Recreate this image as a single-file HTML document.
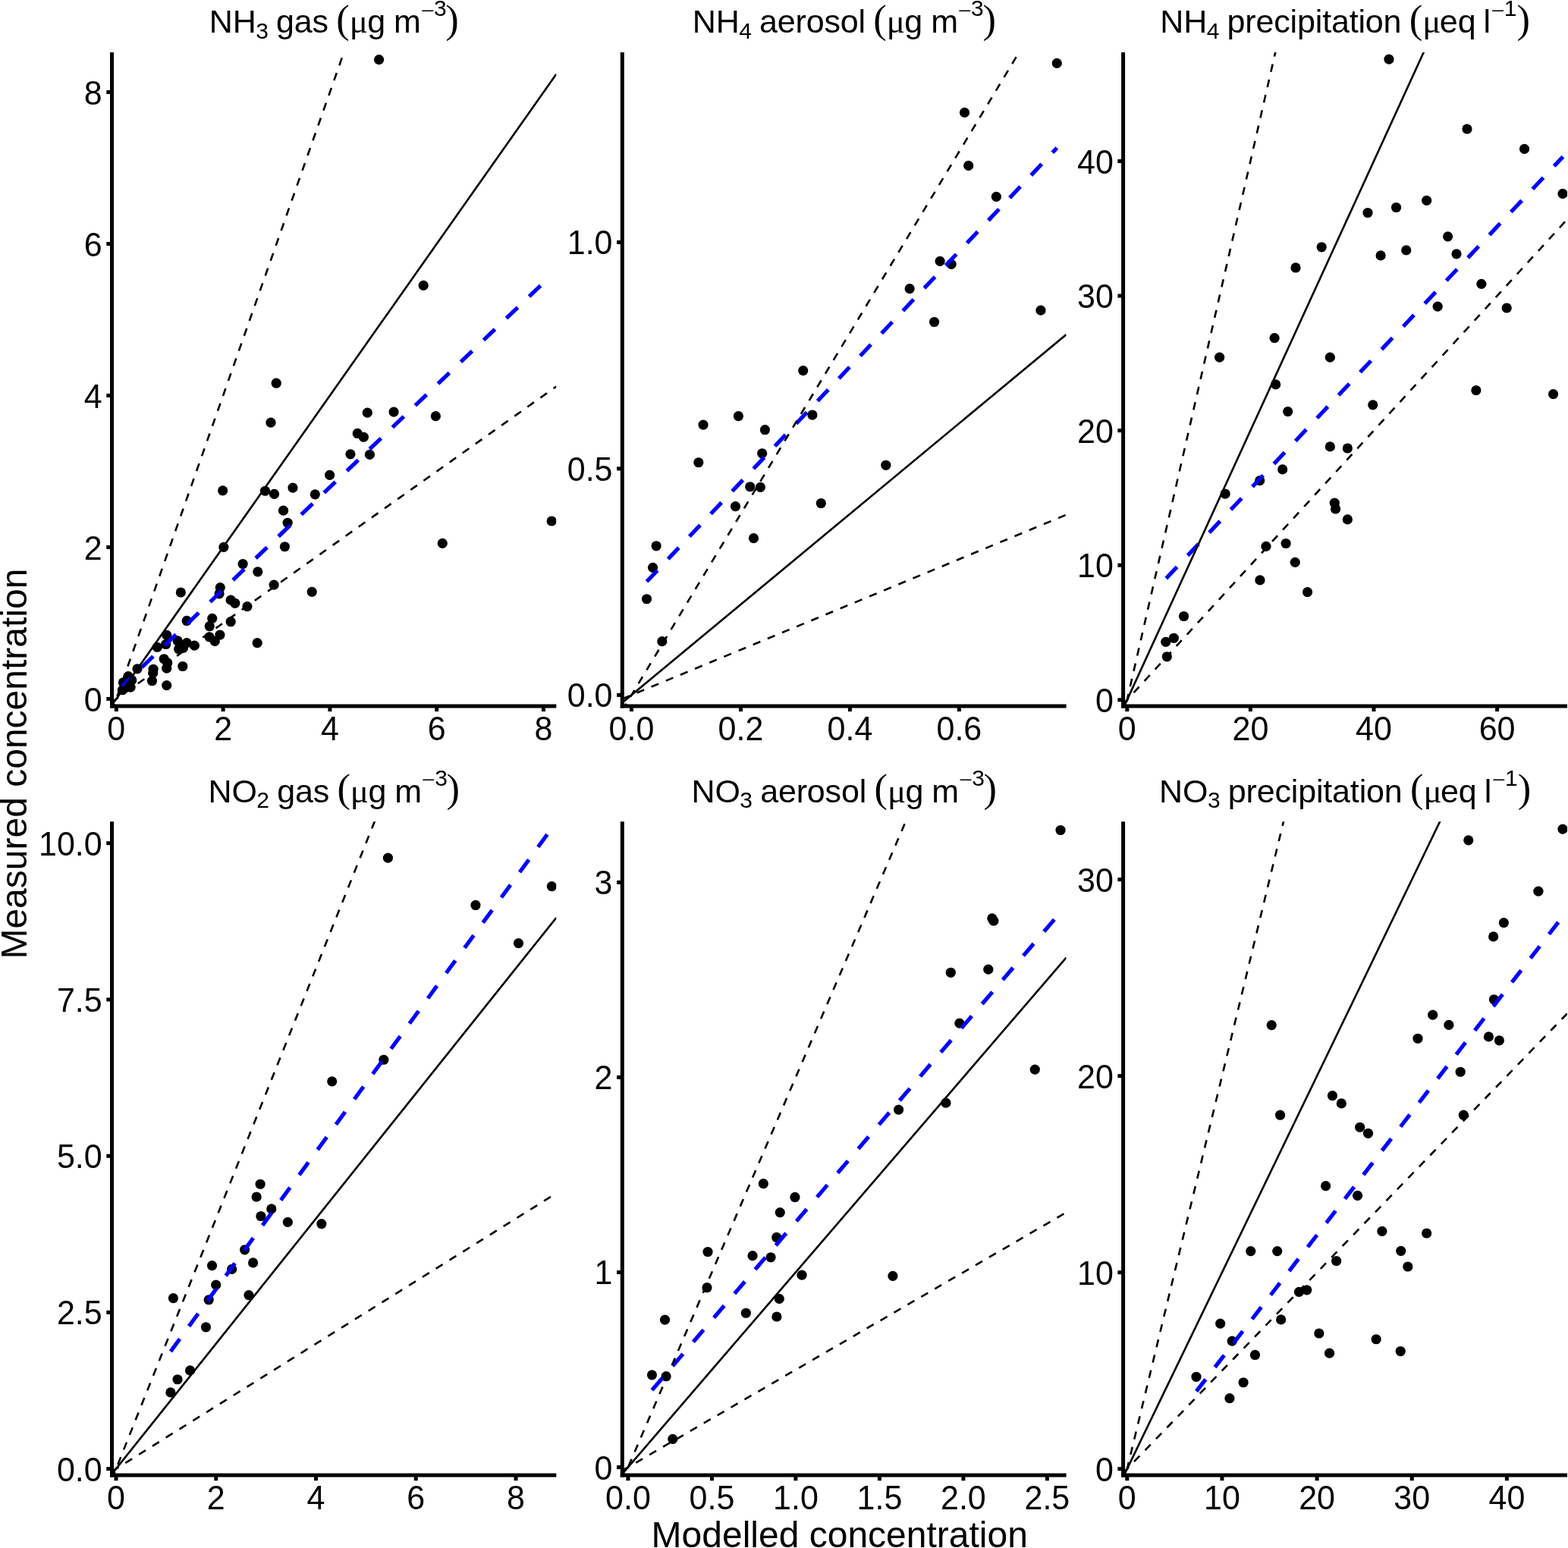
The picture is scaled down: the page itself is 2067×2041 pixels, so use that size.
<!DOCTYPE html>
<html lang="en"><head><meta charset="utf-8"><title>Measured vs modelled concentration</title>
<style>html,body{margin:0;padding:0;background:#fff}svg{display:block}text{font-family:"Liberation Sans",Arial,sans-serif;fill:#000}.sy{font-family:"Liberation Serif","Times New Roman",serif}</style></head><body>
<svg width="2067" height="2041" viewBox="0 0 2067 2041">
<rect width="2067" height="2041" fill="#fff"/>
<defs>
<clipPath id="c0"><rect x="147.5" y="68.9" width="585.8" height="862"/></clipPath>
<clipPath id="c1"><rect x="820.3" y="68.9" width="585.3" height="862"/></clipPath>
<clipPath id="c2"><rect x="1480.6" y="68.9" width="585.4" height="862"/></clipPath>
<clipPath id="c3"><rect x="147.5" y="1083.3" width="585.8" height="861.7"/></clipPath>
<clipPath id="c4"><rect x="820.3" y="1083.3" width="585.3" height="861.7"/></clipPath>
<clipPath id="c5"><rect x="1480.6" y="1083.3" width="585.4" height="861.7"/></clipPath>
</defs>
<g id="panel1">
<g clip-path="url(#c0)">
<g fill="#000">
<circle cx="293.62" cy="646.83" r="6.6"/>
<circle cx="349.52" cy="647.25" r="6.6"/>
<circle cx="361.53" cy="651.39" r="6.6"/>
<circle cx="385.96" cy="643.11" r="6.6"/>
<circle cx="415.36" cy="651.8" r="6.6"/>
<circle cx="373.54" cy="673.13" r="6.6"/>
<circle cx="379.13" cy="689.28" r="6.6"/>
<circle cx="375.4" cy="720.75" r="6.6"/>
<circle cx="294.87" cy="721.37" r="6.6"/>
<circle cx="320.12" cy="743.52" r="6.6"/>
<circle cx="339.79" cy="753.87" r="6.6"/>
<circle cx="361.12" cy="771.06" r="6.6"/>
<circle cx="411.22" cy="780.37" r="6.6"/>
<circle cx="238.34" cy="780.99" r="6.6"/>
<circle cx="290.31" cy="774.58" r="6.6"/>
<circle cx="289.07" cy="782.86" r="6.6"/>
<circle cx="304.18" cy="791.14" r="6.6"/>
<circle cx="309.77" cy="795.28" r="6.6"/>
<circle cx="325.92" cy="799.63" r="6.6"/>
<circle cx="279.75" cy="815.36" r="6.6"/>
<circle cx="246.21" cy="818.47" r="6.6"/>
<circle cx="304.18" cy="819.71" r="6.6"/>
<circle cx="276.23" cy="825.71" r="6.6"/>
<circle cx="289.9" cy="837.1" r="6.6"/>
<circle cx="276.02" cy="839.79" r="6.6"/>
<circle cx="283.27" cy="845.38" r="6.6"/>
<circle cx="339.17" cy="847.66" r="6.6"/>
<circle cx="219.71" cy="837.31" r="6.6"/>
<circle cx="234.2" cy="844.97" r="6.6"/>
<circle cx="246.21" cy="847.66" r="6.6"/>
<circle cx="256.36" cy="851.18" r="6.6"/>
<circle cx="207.29" cy="853.25" r="6.6"/>
<circle cx="218.67" cy="849.52" r="6.6"/>
<circle cx="235.65" cy="855.73" r="6.6"/>
<circle cx="241.45" cy="854.29" r="6.6"/>
<circle cx="216.19" cy="868.78" r="6.6"/>
<circle cx="220.75" cy="873.95" r="6.6"/>
<circle cx="219.71" cy="881.2" r="6.6"/>
<circle cx="240.83" cy="878.51" r="6.6"/>
<circle cx="180.99" cy="881.82" r="6.6"/>
<circle cx="202.11" cy="882.24" r="6.6"/>
<circle cx="201.7" cy="887.41" r="6.6"/>
<circle cx="200.46" cy="897.76" r="6.6"/>
<circle cx="219.71" cy="903.56" r="6.6"/>
<circle cx="168.99" cy="891.55" r="6.6"/>
<circle cx="173.75" cy="896.73" r="6.6"/>
<circle cx="162.36" cy="899.83" r="6.6"/>
<circle cx="172.09" cy="906.05" r="6.6"/>
<circle cx="161.33" cy="909.77" r="6.6"/>
<circle cx="364.22" cy="505.22" r="6.6"/>
<circle cx="356.98" cy="557.18" r="6.6"/>
<circle cx="484.31" cy="544.14" r="6.6"/>
<circle cx="519.09" cy="543.11" r="6.6"/>
<circle cx="574.37" cy="548.7" r="6.6"/>
<circle cx="471.26" cy="571.47" r="6.6"/>
<circle cx="479.34" cy="576.23" r="6.6"/>
<circle cx="461.95" cy="598.8" r="6.6"/>
<circle cx="487.41" cy="599.42" r="6.6"/>
<circle cx="434.62" cy="626.34" r="6.6"/>
<circle cx="583.27" cy="716.4" r="6.6"/>
<circle cx="727.16" cy="687" r="6.6"/>
<circle cx="499.6" cy="78.6" r="6.6"/>
<circle cx="558.2" cy="376.4" r="6.6"/>
</g>
<line x1="161" y1="904.6" x2="714.5" y2="374.7" stroke="#0000ff" stroke-width="5.2" stroke-dasharray="20.79 20.79" stroke-dashoffset="5.68"/>
<line x1="147.5" y1="929.74" x2="733.3" y2="97.64" stroke="#000" stroke-width="2.62"/>
<line x1="147.5" y1="937.98" x2="733.3" y2="-726.23" stroke="#000" stroke-width="2.62" stroke-dasharray="10.5 10.5"/>
<line x1="147.5" y1="925.62" x2="733.3" y2="509.57" stroke="#000" stroke-width="2.62" stroke-dasharray="10.5 10.5"/>
</g>
<g stroke="#000" stroke-width="5.0" fill="none" stroke-linecap="butt">
<line x1="147.5" y1="68.9" x2="147.5" y2="933.4"/>
<line x1="145" y1="930.9" x2="733.3" y2="930.9"/>
<line x1="153.3" y1="930.9" x2="153.3" y2="938.1"/>
<line x1="294.1" y1="930.9" x2="294.1" y2="938.1"/>
<line x1="434.9" y1="930.9" x2="434.9" y2="938.1"/>
<line x1="575.7" y1="930.9" x2="575.7" y2="938.1"/>
<line x1="716.5" y1="930.9" x2="716.5" y2="938.1"/>
<line x1="140.3" y1="921.5" x2="147.5" y2="921.5"/>
<line x1="140.3" y1="721.5" x2="147.5" y2="721.5"/>
<line x1="140.3" y1="521.5" x2="147.5" y2="521.5"/>
<line x1="140.3" y1="321.5" x2="147.5" y2="321.5"/>
<line x1="140.3" y1="121.5" x2="147.5" y2="121.5"/>
</g>
<g font-size="43">
<text transform="translate(153.3 975.6) scale(1 1.03)" text-anchor="middle">0</text>
<text transform="translate(294.1 975.6) scale(1 1.03)" text-anchor="middle">2</text>
<text transform="translate(434.9 975.6) scale(1 1.03)" text-anchor="middle">4</text>
<text transform="translate(575.7 975.6) scale(1 1.03)" text-anchor="middle">6</text>
<text transform="translate(716.5 975.6) scale(1 1.03)" text-anchor="middle">8</text>
<text transform="translate(134.7 937.5) scale(1 1.03)" text-anchor="end">0</text>
<text transform="translate(134.7 737.5) scale(1 1.03)" text-anchor="end">2</text>
<text transform="translate(134.7 537.5) scale(1 1.03)" text-anchor="end">4</text>
<text transform="translate(134.7 337.5) scale(1 1.03)" text-anchor="end">6</text>
<text transform="translate(134.7 137.5) scale(1 1.03)" text-anchor="end">8</text>
</g>
<text class="title" font-size="43"><tspan x="275.63" y="43.1" font-size="43">NH</tspan><tspan x="337.14" y="51" font-size="30">3 </tspan><tspan x="363.97" y="43.1" font-size="43" letter-spacing="-0.16">gas </tspan><tspan x="443.19" y="42.5" font-size="52.5" class="sy">(</tspan><tspan x="460.64" y="43.1" font-size="45" class="sy">μ</tspan><tspan x="484.19" y="43.1" font-size="43">g </tspan><tspan x="519.06" y="43.1" font-size="43">m</tspan><tspan x="554.42" y="24.6" font-size="32" class="sy">−</tspan><tspan x="571.94" y="21.1" font-size="30">3</tspan><tspan x="587.33" y="42.5" font-size="52.5" class="sy">)</tspan></text>
</g>
<g id="panel2">
<g clip-path="url(#c1)">
<g fill="#000">
<circle cx="1393.29" cy="83.4" r="6.6"/>
<circle cx="1271.55" cy="148.41" r="6.6"/>
<circle cx="1276.73" cy="218.39" r="6.6"/>
<circle cx="1313.37" cy="259.38" r="6.6"/>
<circle cx="1239.13" cy="344.31" r="6.6"/>
<circle cx="1254.2" cy="348.34" r="6.6"/>
<circle cx="1199.16" cy="380.64" r="6.6"/>
<circle cx="1231.59" cy="424.51" r="6.6"/>
<circle cx="1371.96" cy="409.17" r="6.6"/>
<circle cx="1058.72" cy="488.65" r="6.6"/>
<circle cx="973.42" cy="548.7" r="6.6"/>
<circle cx="927.04" cy="560.08" r="6.6"/>
<circle cx="1008.41" cy="566.71" r="6.6"/>
<circle cx="1070.93" cy="547.04" r="6.6"/>
<circle cx="1004.68" cy="597.76" r="6.6"/>
<circle cx="920.83" cy="609.77" r="6.6"/>
<circle cx="1167.83" cy="613.29" r="6.6"/>
<circle cx="988.74" cy="641.74" r="6.6"/>
<circle cx="1002.4" cy="642.36" r="6.6"/>
<circle cx="1082.32" cy="663.48" r="6.6"/>
<circle cx="969.48" cy="667.62" r="6.6"/>
<circle cx="993.5" cy="709.65" r="6.6"/>
<circle cx="865.13" cy="719.79" r="6.6"/>
<circle cx="860.58" cy="748.36" r="6.6"/>
<circle cx="852.51" cy="789.77" r="6.6"/>
<circle cx="872.8" cy="845.67" r="6.6"/>
</g>
<line x1="852.6" y1="766.8" x2="1393.3" y2="195" stroke="#0000ff" stroke-width="5.2" stroke-dasharray="20.48 20.48" stroke-dashoffset="0"/>
<line x1="820.3" y1="926.52" x2="1405.6" y2="441.07" stroke="#000" stroke-width="2.62"/>
<line x1="820.3" y1="936.64" x2="1405.6" y2="-34.25" stroke="#000" stroke-width="2.62" stroke-dasharray="10.37 10.37"/>
<line x1="820.3" y1="921.46" x2="1405.6" y2="678.74" stroke="#000" stroke-width="2.62" stroke-dasharray="10.37 10.37"/>
</g>
<g stroke="#000" stroke-width="5.0" fill="none" stroke-linecap="butt">
<line x1="820.3" y1="68.9" x2="820.3" y2="933.4"/>
<line x1="817.8" y1="930.9" x2="1405.6" y2="930.9"/>
<line x1="832.5" y1="930.9" x2="832.5" y2="938.1"/>
<line x1="976.46" y1="930.9" x2="976.46" y2="938.1"/>
<line x1="1120.42" y1="930.9" x2="1120.42" y2="938.1"/>
<line x1="1264.38" y1="930.9" x2="1264.38" y2="938.1"/>
<line x1="813.1" y1="916.4" x2="820.3" y2="916.4"/>
<line x1="813.1" y1="617.9" x2="820.3" y2="617.9"/>
<line x1="813.1" y1="319.4" x2="820.3" y2="319.4"/>
</g>
<g font-size="43">
<text transform="translate(832.5 975.6) scale(1 1.03)" text-anchor="middle">0.0</text>
<text transform="translate(976.46 975.6) scale(1 1.03)" text-anchor="middle">0.2</text>
<text transform="translate(1120.42 975.6) scale(1 1.03)" text-anchor="middle">0.4</text>
<text transform="translate(1264.38 975.6) scale(1 1.03)" text-anchor="middle">0.6</text>
<text transform="translate(807.5 932.4) scale(1 1.03)" text-anchor="end">0.0</text>
<text transform="translate(807.5 633.9) scale(1 1.03)" text-anchor="end">0.5</text>
<text transform="translate(807.5 335.4) scale(1 1.03)" text-anchor="end">1.0</text>
</g>
<text class="title" font-size="43"><tspan x="912.65" y="43.1" font-size="43">NH</tspan><tspan x="974.16" y="51" font-size="30">4 </tspan><tspan x="1000.99" y="43.1" font-size="43" letter-spacing="-0.16">aerosol </tspan><tspan x="1151.28" y="42.5" font-size="52.5" class="sy">(</tspan><tspan x="1168.73" y="43.1" font-size="45" class="sy">μ</tspan><tspan x="1192.28" y="43.1" font-size="43">g </tspan><tspan x="1227.14" y="43.1" font-size="43">m</tspan><tspan x="1262.51" y="24.6" font-size="32" class="sy">−</tspan><tspan x="1280.03" y="21.1" font-size="30">3</tspan><tspan x="1295.41" y="42.5" font-size="52.5" class="sy">)</tspan></text>
</g>
<g id="panel3">
<g clip-path="url(#c2)">
<g fill="#000">
<circle cx="1830.98" cy="78.12" r="6.6"/>
<circle cx="1933.98" cy="169.99" r="6.6"/>
<circle cx="2009.55" cy="196.39" r="6.6"/>
<circle cx="2060.01" cy="255.39" r="6.6"/>
<circle cx="1880.66" cy="264.45" r="6.6"/>
<circle cx="1840.55" cy="273.51" r="6.6"/>
<circle cx="1803.02" cy="280.5" r="6.6"/>
<circle cx="1908.61" cy="311.81" r="6.6"/>
<circle cx="1742.21" cy="325.79" r="6.6"/>
<circle cx="1853.75" cy="329.93" r="6.6"/>
<circle cx="1820.11" cy="336.92" r="6.6"/>
<circle cx="1920" cy="334.84" r="6.6"/>
<circle cx="1708.05" cy="352.96" r="6.6"/>
<circle cx="1952.87" cy="374.44" r="6.6"/>
<circle cx="1895.16" cy="404.2" r="6.6"/>
<circle cx="1986.25" cy="406.01" r="6.6"/>
<circle cx="1680.1" cy="445.55" r="6.6"/>
<circle cx="1607.63" cy="471.17" r="6.6"/>
<circle cx="1753.34" cy="471.17" r="6.6"/>
<circle cx="1681.65" cy="506.88" r="6.6"/>
<circle cx="1945.88" cy="514.65" r="6.6"/>
<circle cx="2047.59" cy="519.57" r="6.6"/>
<circle cx="1809.75" cy="533.8" r="6.6"/>
<circle cx="1697.69" cy="542.6" r="6.6"/>
<circle cx="1753.34" cy="588.92" r="6.6"/>
<circle cx="1776.37" cy="590.99" r="6.6"/>
<circle cx="1690.71" cy="618.94" r="6.6"/>
<circle cx="1660.69" cy="633.7" r="6.6"/>
<circle cx="1615.14" cy="651.04" r="6.6"/>
<circle cx="1759.29" cy="663.2" r="6.6"/>
<circle cx="1760.58" cy="670.96" r="6.6"/>
<circle cx="1776.37" cy="684.94" r="6.6"/>
<circle cx="1668.97" cy="720.39" r="6.6"/>
<circle cx="1695.11" cy="716.51" r="6.6"/>
<circle cx="1707.27" cy="741.36" r="6.6"/>
<circle cx="1660.94" cy="764.91" r="6.6"/>
<circle cx="1560.53" cy="812.52" r="6.6"/>
<circle cx="1547.33" cy="841.24" r="6.6"/>
<circle cx="1536.77" cy="846.37" r="6.6"/>
<circle cx="1538.32" cy="865.78" r="6.6"/>
<circle cx="1723.57" cy="780.68" r="6.6"/>
</g>
<line x1="1537.3" y1="762.6" x2="2060.4" y2="206.6" stroke="#0000ff" stroke-width="5.2" stroke-dasharray="20.73 20.73" stroke-dashoffset="0"/>
<line x1="1480.6" y1="934.16" x2="2066" y2="-344.47" stroke="#000" stroke-width="2.62"/>
<line x1="1480.6" y1="945.52" x2="2066" y2="-1611.74" stroke="#000" stroke-width="2.62" stroke-dasharray="10.39 10.39"/>
<line x1="1480.6" y1="928.48" x2="2066" y2="289.17" stroke="#000" stroke-width="2.62" stroke-dasharray="10.39 10.39"/>
</g>
<g stroke="#000" stroke-width="5.0" fill="none" stroke-linecap="butt">
<line x1="1480.6" y1="68.9" x2="1480.6" y2="933.4"/>
<line x1="1478.1" y1="930.9" x2="2066" y2="930.9"/>
<line x1="1485.8" y1="930.9" x2="1485.8" y2="938.1"/>
<line x1="1648.4" y1="930.9" x2="1648.4" y2="938.1"/>
<line x1="1811" y1="930.9" x2="1811" y2="938.1"/>
<line x1="1973.6" y1="930.9" x2="1973.6" y2="938.1"/>
<line x1="1473.4" y1="922.8" x2="1480.6" y2="922.8"/>
<line x1="1473.4" y1="745.22" x2="1480.6" y2="745.22"/>
<line x1="1473.4" y1="567.65" x2="1480.6" y2="567.65"/>
<line x1="1473.4" y1="390.07" x2="1480.6" y2="390.07"/>
<line x1="1473.4" y1="212.5" x2="1480.6" y2="212.5"/>
</g>
<g font-size="43">
<text transform="translate(1485.8 975.6) scale(1 1.03)" text-anchor="middle">0</text>
<text transform="translate(1648.4 975.6) scale(1 1.03)" text-anchor="middle">20</text>
<text transform="translate(1811 975.6) scale(1 1.03)" text-anchor="middle">40</text>
<text transform="translate(1973.6 975.6) scale(1 1.03)" text-anchor="middle">60</text>
<text transform="translate(1467.8 938.8) scale(1 1.03)" text-anchor="end">0</text>
<text transform="translate(1467.8 761.22) scale(1 1.03)" text-anchor="end">10</text>
<text transform="translate(1467.8 583.65) scale(1 1.03)" text-anchor="end">20</text>
<text transform="translate(1467.8 406.07) scale(1 1.03)" text-anchor="end">30</text>
<text transform="translate(1467.8 228.5) scale(1 1.03)" text-anchor="end">40</text>
</g>
<text class="title" font-size="43"><tspan x="1529.24" y="43.1" font-size="43">NH</tspan><tspan x="1590.75" y="51" font-size="30">4 </tspan><tspan x="1617.58" y="43.1" font-size="43" letter-spacing="-0.16">precipitation </tspan><tspan x="1857.74" y="42.5" font-size="52.5" class="sy">(</tspan><tspan x="1875.19" y="43.1" font-size="45" class="sy">μ</tspan><tspan x="1897.74" y="43.1" font-size="43">eq </tspan><tspan x="1955.51" y="43.1" font-size="43">l</tspan><tspan x="1965.31" y="24.6" font-size="32" class="sy">−</tspan><tspan x="1982.83" y="21.1" font-size="30">1</tspan><tspan x="1999.52" y="42.5" font-size="52.5" class="sy">)</tspan></text>
</g>
<g id="panel4">
<g clip-path="url(#c3)">
<g fill="#000">
<circle cx="511.43" cy="1131.14" r="6.6"/>
<circle cx="626.96" cy="1193.46" r="6.6"/>
<circle cx="727.37" cy="1168.61" r="6.6"/>
<circle cx="683.48" cy="1243.56" r="6.6"/>
<circle cx="505.84" cy="1397.27" r="6.6"/>
<circle cx="437.72" cy="1425.84" r="6.6"/>
<circle cx="343.11" cy="1561.24" r="6.6"/>
<circle cx="338.14" cy="1578.01" r="6.6"/>
<circle cx="357.81" cy="1593.95" r="6.6"/>
<circle cx="343.93" cy="1603.48" r="6.6"/>
<circle cx="379.34" cy="1611.35" r="6.6"/>
<circle cx="423.85" cy="1613.62" r="6.6"/>
<circle cx="322.61" cy="1647.78" r="6.6"/>
<circle cx="333.58" cy="1664.91" r="6.6"/>
<circle cx="279.54" cy="1668.63" r="6.6"/>
<circle cx="305.63" cy="1673.4" r="6.6"/>
<circle cx="284.72" cy="1694.1" r="6.6"/>
<circle cx="228.41" cy="1711.7" r="6.6"/>
<circle cx="275.2" cy="1713.77" r="6.6"/>
<circle cx="327.99" cy="1707.56" r="6.6"/>
<circle cx="271.47" cy="1749.79" r="6.6"/>
<circle cx="250.56" cy="1806.94" r="6.6"/>
<circle cx="234" cy="1818.74" r="6.6"/>
<circle cx="224.89" cy="1835.92" r="6.6"/>
</g>
<line x1="224.9" y1="1781.9" x2="727.4" y2="1091.9" stroke="#0000ff" stroke-width="5.2" stroke-dasharray="20.57 20.57" stroke-dashoffset="0"/>
<line x1="147.5" y1="1943.49" x2="733.3" y2="1209.99" stroke="#000" stroke-width="2.62"/>
<line x1="147.5" y1="1950.37" x2="733.3" y2="483.38" stroke="#000" stroke-width="2.62" stroke-dasharray="10.5 10.5"/>
<line x1="147.5" y1="1940.04" x2="733.3" y2="1573.3" stroke="#000" stroke-width="2.62" stroke-dasharray="10.5 10.5"/>
</g>
<g stroke="#000" stroke-width="5.0" fill="none" stroke-linecap="butt">
<line x1="147.5" y1="1083.3" x2="147.5" y2="1947.5"/>
<line x1="145" y1="1945" x2="733.3" y2="1945"/>
<line x1="153" y1="1945" x2="153" y2="1952.2"/>
<line x1="284.76" y1="1945" x2="284.76" y2="1952.2"/>
<line x1="416.52" y1="1945" x2="416.52" y2="1952.2"/>
<line x1="548.28" y1="1945" x2="548.28" y2="1952.2"/>
<line x1="680.04" y1="1945" x2="680.04" y2="1952.2"/>
<line x1="140.3" y1="1936.6" x2="147.5" y2="1936.6"/>
<line x1="140.3" y1="1730.38" x2="147.5" y2="1730.38"/>
<line x1="140.3" y1="1524.15" x2="147.5" y2="1524.15"/>
<line x1="140.3" y1="1317.92" x2="147.5" y2="1317.92"/>
<line x1="140.3" y1="1111.7" x2="147.5" y2="1111.7"/>
</g>
<g font-size="43">
<text transform="translate(153 1989.7) scale(1 1.03)" text-anchor="middle">0</text>
<text transform="translate(284.76 1989.7) scale(1 1.03)" text-anchor="middle">2</text>
<text transform="translate(416.52 1989.7) scale(1 1.03)" text-anchor="middle">4</text>
<text transform="translate(548.28 1989.7) scale(1 1.03)" text-anchor="middle">6</text>
<text transform="translate(680.04 1989.7) scale(1 1.03)" text-anchor="middle">8</text>
<text transform="translate(134.7 1952.6) scale(1 1.03)" text-anchor="end">0.0</text>
<text transform="translate(134.7 1746.38) scale(1 1.03)" text-anchor="end">2.5</text>
<text transform="translate(134.7 1540.15) scale(1 1.03)" text-anchor="end">5.0</text>
<text transform="translate(134.7 1333.92) scale(1 1.03)" text-anchor="end">7.5</text>
<text transform="translate(134.7 1127.7) scale(1 1.03)" text-anchor="end">10.0</text>
</g>
<text class="title" font-size="43"><tspan x="274.43" y="1057.5" font-size="43">NO</tspan><tspan x="338.33" y="1065.4" font-size="30">2 </tspan><tspan x="365.17" y="1057.5" font-size="43" letter-spacing="-0.16">gas </tspan><tspan x="444.39" y="1056.9" font-size="52.5" class="sy">(</tspan><tspan x="461.84" y="1057.5" font-size="45" class="sy">μ</tspan><tspan x="485.39" y="1057.5" font-size="43">g </tspan><tspan x="520.25" y="1057.5" font-size="43">m</tspan><tspan x="555.62" y="1039" font-size="32" class="sy">−</tspan><tspan x="573.14" y="1035.5" font-size="30">3</tspan><tspan x="588.53" y="1056.9" font-size="52.5" class="sy">)</tspan></text>
</g>
<g id="panel5">
<g clip-path="url(#c4)">
<g fill="#000">
<circle cx="1398.05" cy="1094.49" r="6.6"/>
<circle cx="1307.78" cy="1210.85" r="6.6"/>
<circle cx="1309.86" cy="1214.16" r="6.6"/>
<circle cx="1253.33" cy="1282.28" r="6.6"/>
<circle cx="1302.82" cy="1278.14" r="6.6"/>
<circle cx="1264.93" cy="1349.15" r="6.6"/>
<circle cx="1364.31" cy="1410.1" r="6.6"/>
<circle cx="1246.92" cy="1454.2" r="6.6"/>
<circle cx="1184.6" cy="1463.11" r="6.6"/>
<circle cx="1006.34" cy="1560.66" r="6.6"/>
<circle cx="1047.95" cy="1578.47" r="6.6"/>
<circle cx="1028.28" cy="1598.55" r="6.6"/>
<circle cx="1023.73" cy="1631.47" r="6.6"/>
<circle cx="933.04" cy="1650.52" r="6.6"/>
<circle cx="992.05" cy="1655.69" r="6.6"/>
<circle cx="1016.07" cy="1657.76" r="6.6"/>
<circle cx="1057.06" cy="1681.16" r="6.6"/>
<circle cx="1176.94" cy="1682.4" r="6.6"/>
<circle cx="932.01" cy="1697.72" r="6.6"/>
<circle cx="1027.25" cy="1712.42" r="6.6"/>
<circle cx="983.35" cy="1731.26" r="6.6"/>
<circle cx="1023.93" cy="1736.02" r="6.6"/>
<circle cx="876.52" cy="1740.17" r="6.6"/>
<circle cx="859.47" cy="1812.86" r="6.6"/>
<circle cx="878.11" cy="1814.72" r="6.6"/>
<circle cx="886.8" cy="1897.33" r="6.6"/>
</g>
<line x1="859.5" y1="1832.9" x2="1398" y2="1202.8" stroke="#0000ff" stroke-width="5.2" stroke-dasharray="20.93 20.93" stroke-dashoffset="0"/>
<line x1="820.3" y1="1943.4" x2="1405.6" y2="1262.56" stroke="#000" stroke-width="2.62"/>
<line x1="820.3" y1="1952.3" x2="1405.6" y2="590.62" stroke="#000" stroke-width="2.62" stroke-dasharray="10.36 10.36"/>
<line x1="820.3" y1="1938.95" x2="1405.6" y2="1598.53" stroke="#000" stroke-width="2.62" stroke-dasharray="10.36 10.36"/>
</g>
<g stroke="#000" stroke-width="5.0" fill="none" stroke-linecap="butt">
<line x1="820.3" y1="1083.3" x2="820.3" y2="1947.5"/>
<line x1="817.8" y1="1945" x2="1405.6" y2="1945"/>
<line x1="827.95" y1="1945" x2="827.95" y2="1952.2"/>
<line x1="938.44" y1="1945" x2="938.44" y2="1952.2"/>
<line x1="1048.93" y1="1945" x2="1048.93" y2="1952.2"/>
<line x1="1159.42" y1="1945" x2="1159.42" y2="1952.2"/>
<line x1="1269.91" y1="1945" x2="1269.91" y2="1952.2"/>
<line x1="1380.4" y1="1945" x2="1380.4" y2="1952.2"/>
<line x1="813.1" y1="1934.5" x2="820.3" y2="1934.5"/>
<line x1="813.1" y1="1677.45" x2="820.3" y2="1677.45"/>
<line x1="813.1" y1="1420.4" x2="820.3" y2="1420.4"/>
<line x1="813.1" y1="1163.35" x2="820.3" y2="1163.35"/>
</g>
<g font-size="43">
<text transform="translate(827.95 1989.7) scale(1 1.03)" text-anchor="middle">0.0</text>
<text transform="translate(938.44 1989.7) scale(1 1.03)" text-anchor="middle">0.5</text>
<text transform="translate(1048.93 1989.7) scale(1 1.03)" text-anchor="middle">1.0</text>
<text transform="translate(1159.42 1989.7) scale(1 1.03)" text-anchor="middle">1.5</text>
<text transform="translate(1269.91 1989.7) scale(1 1.03)" text-anchor="middle">2.0</text>
<text transform="translate(1380.4 1989.7) scale(1 1.03)" text-anchor="middle">2.5</text>
<text transform="translate(807.5 1950.5) scale(1 1.03)" text-anchor="end">0</text>
<text transform="translate(807.5 1693.45) scale(1 1.03)" text-anchor="end">1</text>
<text transform="translate(807.5 1436.4) scale(1 1.03)" text-anchor="end">2</text>
<text transform="translate(807.5 1179.35) scale(1 1.03)" text-anchor="end">3</text>
</g>
<text class="title" font-size="43"><tspan x="911.45" y="1057.5" font-size="43">NO</tspan><tspan x="975.35" y="1065.4" font-size="30">3 </tspan><tspan x="1002.18" y="1057.5" font-size="43" letter-spacing="-0.16">aerosol </tspan><tspan x="1152.47" y="1056.9" font-size="52.5" class="sy">(</tspan><tspan x="1169.92" y="1057.5" font-size="45" class="sy">μ</tspan><tspan x="1193.47" y="1057.5" font-size="43">g </tspan><tspan x="1228.33" y="1057.5" font-size="43">m</tspan><tspan x="1263.7" y="1039" font-size="32" class="sy">−</tspan><tspan x="1281.22" y="1035.5" font-size="30">3</tspan><tspan x="1296.61" y="1056.9" font-size="52.5" class="sy">)</tspan></text>
</g>
<g id="panel6">
<g clip-path="url(#c5)">
<g fill="#000">
<circle cx="2060.01" cy="1093.12" r="6.6"/>
<circle cx="1935.79" cy="1107.87" r="6.6"/>
<circle cx="2027.92" cy="1175.16" r="6.6"/>
<circle cx="1982.37" cy="1216.56" r="6.6"/>
<circle cx="1968.66" cy="1234.94" r="6.6"/>
<circle cx="1969.43" cy="1317.75" r="6.6"/>
<circle cx="1888.69" cy="1338.2" r="6.6"/>
<circle cx="1909.91" cy="1351.4" r="6.6"/>
<circle cx="1676.21" cy="1351.66" r="6.6"/>
<circle cx="1869.02" cy="1369.25" r="6.6"/>
<circle cx="1962.45" cy="1366.93" r="6.6"/>
<circle cx="1976.42" cy="1371.84" r="6.6"/>
<circle cx="1925.18" cy="1413.25" r="6.6"/>
<circle cx="1756.44" cy="1444.59" r="6.6"/>
<circle cx="1768.35" cy="1454.94" r="6.6"/>
<circle cx="1687.6" cy="1470.21" r="6.6"/>
<circle cx="1929.32" cy="1470.21" r="6.6"/>
<circle cx="1792.67" cy="1486.25" r="6.6"/>
<circle cx="1803.54" cy="1494.28" r="6.6"/>
<circle cx="1747.64" cy="1563.63" r="6.6"/>
<circle cx="1789.57" cy="1576.31" r="6.6"/>
<circle cx="1821.92" cy="1623.42" r="6.6"/>
<circle cx="1880.66" cy="1626" r="6.6"/>
<circle cx="1648.78" cy="1649.55" r="6.6"/>
<circle cx="1683.72" cy="1649.55" r="6.6"/>
<circle cx="1846.76" cy="1649.3" r="6.6"/>
<circle cx="1761.62" cy="1662.49" r="6.6"/>
<circle cx="1855.82" cy="1670" r="6.6"/>
<circle cx="1712.45" cy="1703.39" r="6.6"/>
<circle cx="1722.8" cy="1700.8" r="6.6"/>
<circle cx="1688.64" cy="1739.88" r="6.6"/>
<circle cx="1608.67" cy="1745.05" r="6.6"/>
<circle cx="1738.84" cy="1757.99" r="6.6"/>
<circle cx="1814.15" cy="1765.76" r="6.6"/>
<circle cx="1624.19" cy="1768.08" r="6.6"/>
<circle cx="1846.24" cy="1781.54" r="6.6"/>
<circle cx="1752.56" cy="1784.13" r="6.6"/>
<circle cx="1654.47" cy="1786.46" r="6.6"/>
<circle cx="1576.99" cy="1815.28" r="6.6"/>
<circle cx="1639.1" cy="1822.73" r="6.6"/>
<circle cx="1620.93" cy="1843.7" r="6.6"/>
</g>
<line x1="1577.1" y1="1834.4" x2="2060" y2="1208.4" stroke="#0000ff" stroke-width="5.2" stroke-dasharray="20.03 20.03" stroke-dashoffset="0"/>
<line x1="1480.6" y1="1947.46" x2="2066" y2="735.83" stroke="#000" stroke-width="2.62"/>
<line x1="1480.6" y1="1958.23" x2="2066" y2="-465.05" stroke="#000" stroke-width="2.62" stroke-dasharray="10.4 10.4"/>
<line x1="1480.6" y1="1942.08" x2="2066" y2="1336.26" stroke="#000" stroke-width="2.62" stroke-dasharray="10.4 10.4"/>
</g>
<g stroke="#000" stroke-width="5.0" fill="none" stroke-linecap="butt">
<line x1="1480.6" y1="1083.3" x2="1480.6" y2="1947.5"/>
<line x1="1478.1" y1="1945" x2="2066" y2="1945"/>
<line x1="1485.8" y1="1945" x2="1485.8" y2="1952.2"/>
<line x1="1610.95" y1="1945" x2="1610.95" y2="1952.2"/>
<line x1="1736.1" y1="1945" x2="1736.1" y2="1952.2"/>
<line x1="1861.25" y1="1945" x2="1861.25" y2="1952.2"/>
<line x1="1986.4" y1="1945" x2="1986.4" y2="1952.2"/>
<line x1="1473.4" y1="1936.7" x2="1480.6" y2="1936.7"/>
<line x1="1473.4" y1="1677.67" x2="1480.6" y2="1677.67"/>
<line x1="1473.4" y1="1418.64" x2="1480.6" y2="1418.64"/>
<line x1="1473.4" y1="1159.61" x2="1480.6" y2="1159.61"/>
</g>
<g font-size="43">
<text transform="translate(1485.8 1989.7) scale(1 1.03)" text-anchor="middle">0</text>
<text transform="translate(1610.95 1989.7) scale(1 1.03)" text-anchor="middle">10</text>
<text transform="translate(1736.1 1989.7) scale(1 1.03)" text-anchor="middle">20</text>
<text transform="translate(1861.25 1989.7) scale(1 1.03)" text-anchor="middle">30</text>
<text transform="translate(1986.4 1989.7) scale(1 1.03)" text-anchor="middle">40</text>
<text transform="translate(1467.8 1952.7) scale(1 1.03)" text-anchor="end">0</text>
<text transform="translate(1467.8 1693.67) scale(1 1.03)" text-anchor="end">10</text>
<text transform="translate(1467.8 1434.64) scale(1 1.03)" text-anchor="end">20</text>
<text transform="translate(1467.8 1175.61) scale(1 1.03)" text-anchor="end">30</text>
</g>
<text class="title" font-size="43"><tspan x="1528.04" y="1057.5" font-size="43">NO</tspan><tspan x="1591.94" y="1065.4" font-size="30">3 </tspan><tspan x="1618.78" y="1057.5" font-size="43" letter-spacing="-0.16">precipitation </tspan><tspan x="1858.93" y="1056.9" font-size="52.5" class="sy">(</tspan><tspan x="1876.38" y="1057.5" font-size="45" class="sy">μ</tspan><tspan x="1898.93" y="1057.5" font-size="43">eq </tspan><tspan x="1956.71" y="1057.5" font-size="43">l</tspan><tspan x="1966.51" y="1039" font-size="32" class="sy">−</tspan><tspan x="1984.03" y="1035.5" font-size="30">1</tspan><tspan x="2000.72" y="1056.9" font-size="52.5" class="sy">)</tspan></text>
</g>
<text x="1106.75" y="2040" text-anchor="middle" font-size="48">Modelled concentration</text>
<text transform="translate(34.9 1007.1) rotate(-90)" text-anchor="middle" font-size="48">Measured concentration</text>
</svg></body></html>
